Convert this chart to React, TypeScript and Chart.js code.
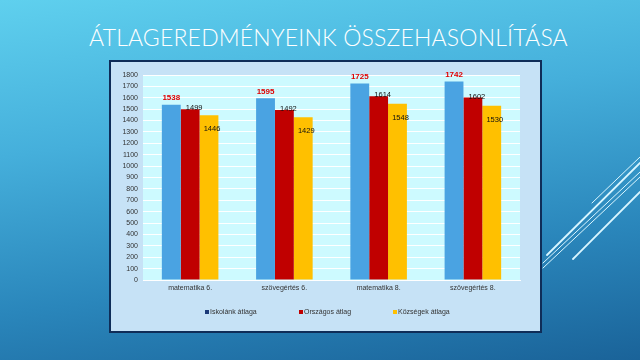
import React, { useEffect, useRef } from "react";
import { Chart, registerables } from "chart.js";

Chart.register(...registerables);

const categories = ["matematika 6.", "szövegértés 6.", "matematika 8.", "szövegértés 8."];
const seriesNames = ["Iskolánk átlaga", "Országos átlag", "Községek átlaga"];
const schoolValues = [1538, 1595, 1725, 1742];
const nationalValues = [1499, 1492, 1614, 1602];
const villageValues = [1446, 1429, 1548, 1530];
const yMin = 0;
const yMax = 1800;
const yStep = 100;

const seriesColors = ["#4aa3e2", "#c00000", "#ffc000"];
const legendMarkerColors = ["#1b3a78", "#c00000", "#ffc000"];

const FONT = "'Liberation Sans', Arial, sans-serif";

const plotBgPlugin = {
  id: "plotBg",
  beforeDraw(chart: any) {
    const { ctx, chartArea } = chart;
    if (!chartArea) return;
    ctx.save();
    ctx.fillStyle = "#cdfaff";
    ctx.fillRect(chartArea.left, chartArea.top, chartArea.right - chartArea.left, chartArea.bottom - chartArea.top);
    ctx.restore();
  },
};

const valueLabelPlugin = {
  id: "valueLabels",
  afterDatasetsDraw(chart: any) {
    const ctx = chart.ctx;
    ctx.save();
    ctx.textAlign = "center";
    ctx.textBaseline = "middle";
    chart.data.datasets.forEach((ds: any, i: number) => {
      const meta = chart.getDatasetMeta(i);
      meta.data.forEach((bar: any, j: number) => {
        const txt = String(ds.data[j]);
        if (i === 0) {
          ctx.font = `bold 8px ${FONT}`;
          ctx.fillStyle = "#e00000";
          ctx.fillText(txt, bar.x, bar.y - 7);
        } else if (i === 1) {
          ctx.font = `7.5px ${FONT}`;
          ctx.fillStyle = "#111111";
          ctx.fillText(txt, bar.x + 4, bar.y - 1);
        } else {
          ctx.font = `7.5px ${FONT}`;
          ctx.fillStyle = "#111111";
          ctx.fillText(txt, bar.x + 3, bar.y + 14);
        }
      });
    });
    ctx.restore();
  },
};

// Legend with equal-width columns (like the Office legend), drawn below the axis.
const legendPlugin = {
  id: "columnLegend",
  afterDraw(chart: any) {
    const ctx = chart.ctx;
    const y = chart.height - 19;
    const startX = 94;
    const colW = 94;
    ctx.save();
    ctx.font = `7px ${FONT}`;
    ctx.textBaseline = "middle";
    ctx.textAlign = "left";
    chart.data.datasets.forEach((ds: any, i: number) => {
      const x = startX + i * colW;
      ctx.fillStyle = legendMarkerColors[i];
      ctx.fillRect(x, y - 2, 4, 4);
      ctx.fillStyle = "#333333";
      ctx.fillText(ds.label, x + 5, y);
    });
    ctx.restore();
  },
};

function BarChart() {
  const ref = useRef<HTMLCanvasElement | null>(null);
  useEffect(() => {
    if (!ref.current) return;
    const chart = new Chart(ref.current, {
      type: "bar",
      data: {
        labels: categories,
        datasets: [
          { label: seriesNames[0], data: schoolValues, backgroundColor: seriesColors[0] },
          { label: seriesNames[1], data: nationalValues, backgroundColor: seriesColors[1] },
          { label: seriesNames[2], data: villageValues, backgroundColor: seriesColors[2] },
        ],
      },
      options: {
        animation: false,
        responsive: false,
        layout: { padding: { top: 13, right: 20, left: 0, bottom: 31 } },
        datasets: { bar: { barPercentage: 1, categoryPercentage: 0.6 } },
        scales: {
          x: {
            grid: { display: false, drawTicks: false },
            border: { color: "#ffffff" },
            ticks: { font: { family: FONT, size: 7 }, color: "#333333", padding: 4 },
            afterFit(scale: any) {
              scale.height = 20;
            },
          },
          y: {
            min: yMin,
            max: yMax,
            grid: { color: "#ffffff", drawTicks: false },
            border: { display: false },
            ticks: {
              stepSize: yStep,
              autoSkip: false,
              font: { family: FONT, size: 7 },
              color: "#333333",
              padding: 5,
              callback: (v: any) => String(v),
            },
            afterFit(scale: any) {
              scale.width = 32;
            },
          },
        },
        plugins: {
          legend: { display: false },
          title: { display: false },
          tooltip: { enabled: false },
        },
      },
      plugins: [plotBgPlugin, valueLabelPlugin, legendPlugin],
    });
    return () => chart.destroy();
  }, []);
  return <canvas ref={ref} width={429} height={269} style={{ display: "block", width: 429, height: 269 }} />;
}

export default function App() {
  return (
    <div
      style={{
        position: "fixed",
        left: 0,
        top: 0,
        width: 640,
        height: 360,
        overflow: "hidden",
        background: "linear-gradient(172deg, #5fd0ee 0%, #45afdb 35%, #2a86bb 70%, #1a6399 100%)",
      }}
    >
      <svg width={640} height={360} style={{ position: "absolute", left: 0, top: 0 }}>
        <g stroke="#d9f6ff" strokeLinecap="round">
          <line x1={592} y1={203} x2={640} y2={157} strokeWidth={1} />
          <line x1={547} y1={255} x2={640} y2={163} strokeWidth={1.8} />
          <line x1={543} y1={263} x2={640} y2={172} strokeWidth={1} />
          <line x1={543} y1={268} x2={640} y2={177} strokeWidth={1} />
          <line x1={573} y1={259} x2={640} y2={192} strokeWidth={1.8} />
        </g>
      </svg>
      <div
        style={{
          position: "absolute",
          left: 89,
          top: 22,
          whiteSpace: "nowrap",
          color: "#ffffff",
          fontFamily: "'Lato', 'Open Sans', sans-serif",
          fontWeight: 300,
          fontSize: 23,
          lineHeight: "30px",
          letterSpacing: 0.18,
        }}
      >
        ÁTLAGEREDMÉNYEINK ÖSSZEHASONLÍTÁSA
      </div>
      <div
        style={{
          position: "absolute",
          left: 109,
          top: 60,
          width: 433,
          height: 273,
          boxSizing: "border-box",
          border: "2px solid #0f2d58",
          background: "#c6e2f6",
        }}
      >
        <BarChart />
      </div>
    </div>
  );
}
